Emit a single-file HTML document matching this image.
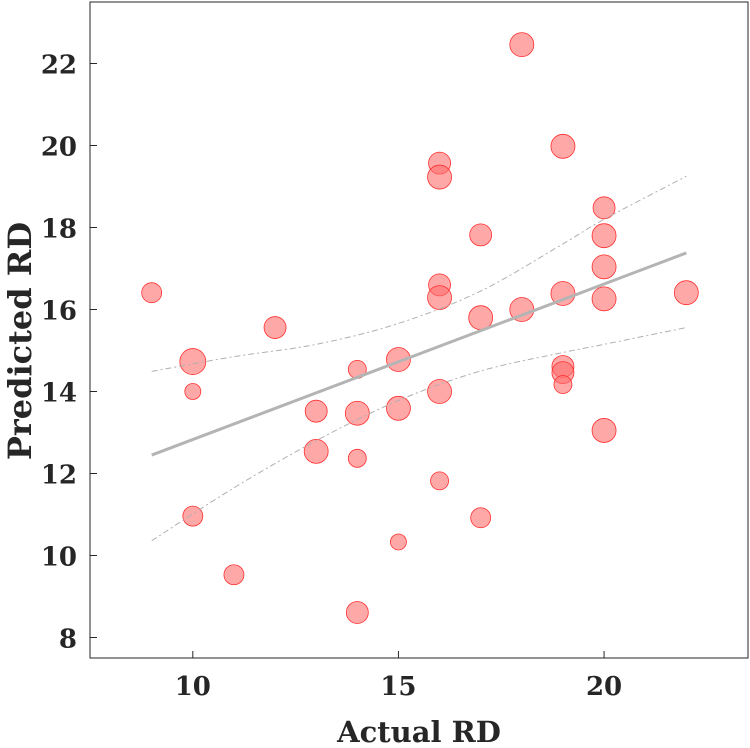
<!DOCTYPE html>
<html><head><meta charset="utf-8"><style>
html,body{margin:0;padding:0;background:#fff;}
svg{display:block;font-family:"DejaVu Serif","Liberation Serif",serif;font-weight:bold;}
</style></head><body>
<svg id="chart" width="750" height="748"></svg>
<script>
const xs=[9,10,10,10,11,12,13,13,14,14,14,14,15,15,15,16,16,16,16,16,16,17,17,17,18,18,19,19,19,19,19,20,20,20,20,20,22];
const ys=[16.41,14.73,14.0,10.96,9.53,15.56,13.52,12.54,14.54,13.47,12.37,8.61,14.78,13.59,10.33,19.57,19.23,16.6,16.29,14.0,11.82,17.82,15.8,10.92,22.46,16.0,19.98,16.39,14.61,14.46,14.17,18.48,17.8,17.04,16.26,13.05,16.41];
const sizes=[10,13,8,10,10,11,11,12,9,12,9,11,12,12,8,11,12,11,12,12,9,11,12,10,12,12,12,12,11,11,9,11,12,12,12,12,12];
const fitX=[9,22];
const fitY=[12.45,17.38];
const ciX=[9,11,13,15,17,19,20,22];
const ciUpper=[14.49,14.85,15.15,15.66,16.45,17.6,18.2,19.25];
const ciLower=[10.36,11.65,12.8,13.78,14.5,14.95,15.15,15.56];
const xTicks=[10,15,20];
const yTicks=[8,10,12,14,16,18,20,22];

const NS="http://www.w3.org/2000/svg";
const svg=document.getElementById('chart');
const L=90,R=748,T=2,B=658,xmin=7.5,xmax=23.5,ymin=7.5,ymax=23.5;
const sx=v=>L+(v-xmin)/(xmax-xmin)*(R-L);
const sy=v=>B-(v-ymin)/(ymax-ymin)*(B-T);
function mk(tag,attrs,parent){const e=document.createElementNS(NS,tag);for(const k in attrs)e.setAttribute(k,attrs[k]);(parent||svg).appendChild(e);return e;}

const frame=mk('rect',{x:L,y:T,width:R-L,height:B-T,fill:'none',stroke:'#262626','stroke-width':1});



xTicks.forEach(t=>{
  const tk=mk('line',{x1:sx(t),x2:sx(t),y1:B,y2:B-7,stroke:'#262626'});
  
  
  const tx=mk('text',{x:sx(t),y:B+37,'text-anchor':'middle','font-size':26,fill:'#262626'});
  tx.textContent=t;
  
  
});
yTicks.forEach(t=>{
  const tk=mk('line',{x1:L,x2:L+7,y1:sy(t),y2:sy(t),stroke:'#262626'});
  
  
  const tx=mk('text',{x:L-13,y:sy(t)+10,'text-anchor':'end','font-size':26,fill:'#262626'});
  tx.textContent=t;
  
  
});

const xt=mk('text',{x:(L+R)/2,y:742,'text-anchor':'middle','font-size':29,fill:'#262626'});
xt.textContent='Actual RD';


const yt=mk('text',{x:0,y:0,'text-anchor':'middle','font-size':32,fill:'#262626',transform:`translate(31,341) rotate(-90)`});
yt.textContent='Predicted RD';



xs.forEach((x,i)=>{
  const c=mk('circle',{cx:sx(x),cy:sy(ys[i]),r:sizes[i],fill:'rgba(255,110,110,0.6)',stroke:'#ff3030','stroke-width':0.8});
  
  
});

function smooth(X,Y){
  const P=X.map((x,i)=>[sx(x),sy(Y[i])]);
  let d='M'+P[0][0]+','+P[0][1];
  for(let i=0;i<P.length-1;i++){
    const p0=P[Math.max(0,i-1)],p1=P[i],p2=P[i+1],p3=P[Math.min(P.length-1,i+2)];
    const c1=[p1[0]+(p2[0]-p0[0])/6,p1[1]+(p2[1]-p0[1])/6];
    const c2=[p2[0]-(p3[0]-p1[0])/6,p2[1]-(p3[1]-p1[1])/6];
    d+=`C${c1[0]},${c1[1]} ${c2[0]},${c2[1]} ${p2[0]},${p2[1]}`;
  }
  return d;
}
const up=mk('path',{d:smooth(ciX,ciUpper),fill:'none',stroke:'#b0b0b0','stroke-width':1,'stroke-dasharray':'6,3,2,3'});


const lo=mk('path',{d:smooth(ciX,ciLower),fill:'none',stroke:'#b0b0b0','stroke-width':1,'stroke-dasharray':'6,3,2,3'});


const fl=mk('path',{d:smooth(fitX,fitY),fill:'none',stroke:'#b4b4b4','stroke-width':3});


</script>
</body></html>
